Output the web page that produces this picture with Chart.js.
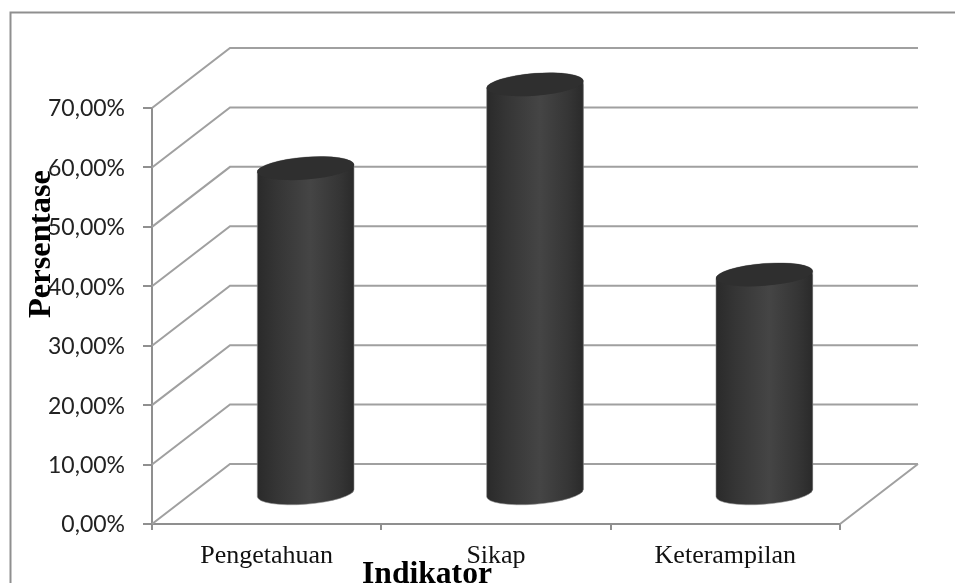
<!DOCTYPE html>
<html><head><meta charset="utf-8">
<style>html,body{margin:0;padding:0;background:#fff}canvas{display:block}</style>
<script src="https://cdn.jsdelivr.net/npm/chart.js@4"></script>
</head><body><canvas id="c" width="955" height="583"></canvas>
<script>
const categories = ['Pengetahuan', 'Sikap', 'Keterampilan'];
const percentValues = [54.8, 68.9, 36.9];
const yTitle = 'Persentase';
const xTitle = 'Indikator';
const depthX = 78, depthY = 60;
const lineColor = '#a0a0a0', axisColor = '#8f8f8f';
const radiusA = 48.5, radiusB = 11.2, tilt = -4.5 * Math.PI / 180;

function cylinderGradient(ctx, x) {
  const g = ctx.createLinearGradient(x - radiusA, 0, x + radiusA, 0);
  g.addColorStop(0, '#2a2a2a');
  g.addColorStop(0.2, '#353535');
  g.addColorStop(0.55, '#454545');
  g.addColorStop(0.85, '#353535');
  g.addColorStop(1, '#2a2a2a');
  return g;
}
function silhouette(ctx, el) {
  const p0 = Math.atan2(-radiusB * Math.sin(tilt), radiusA * Math.cos(tilt));
  ctx.ellipse(el.x, el.y, radiusA, radiusB, tilt, p0 + Math.PI, p0 + 2 * Math.PI, false);
  ctx.ellipse(el.x, el.base, radiusA, radiusB, tilt, p0, p0 + Math.PI, false);
  ctx.closePath();
}
const depthPlugin = {
  id: 'depth',
  beforeDraw(chart) {
    const c = chart.ctx;
    c.save();
    c.fillStyle = '#fff';
    c.fillRect(0, 0, chart.width, chart.height);
    c.strokeStyle = axisColor;
    c.lineWidth = 2;
    c.beginPath();
    c.moveTo(10.5, 583); c.lineTo(10.5, 12.5); c.lineTo(955, 12.5);
    c.stroke();
    c.restore();
  },
  beforeDatasetsDraw(chart) {
    const c = chart.ctx, y = chart.scales.y, a = chart.chartArea;
    c.save();
    c.strokeStyle = lineColor;
    c.lineWidth = 2;
    c.beginPath();
    y.ticks.forEach(t => {
      const py = y.getPixelForValue(t.value);
      c.moveTo(a.left, py);
      c.lineTo(a.left + depthX, py - depthY);
      c.lineTo(a.right + depthX, py - depthY);
    });
    const by = y.getPixelForValue(0);
    c.moveTo(a.right, by);
    c.lineTo(a.right + depthX, by - depthY);
    c.stroke();
    c.restore();
    c.save();
    c.translate(depthX / 2, -depthY / 2);
    c.beginPath();
    chart.getDatasetMeta(0).data.forEach(el => { c.moveTo(el.x, el.y); silhouette(c, el); });
    c.clip();
  },
  afterDatasetsDraw(chart) {
    const c = chart.ctx;
    c.restore();
    c.save();
    c.translate(depthX / 2, -depthY / 2);
    chart.getDatasetMeta(0).data.forEach(el => {
      c.beginPath();
      silhouette(c, el);
      c.fillStyle = cylinderGradient(c, el.x);
      c.fill();
      c.strokeStyle = 'rgba(150,150,150,0.55)';
      c.lineWidth = 1;
      c.stroke();
      c.beginPath();
      c.ellipse(el.x, el.y, radiusA, radiusB, tilt, 0, 2 * Math.PI);
      c.fillStyle = '#2f2f2f';
      c.fill();
    });
    c.restore();
  },
  afterDraw(chart) {
    const c = chart.ctx;
    c.save();
    c.fillStyle = '#000';
    c.textAlign = 'center';
    c.textBaseline = 'alphabetic';
    c.font = 'bold 31.6px "Liberation Serif"';
    c.fillText(xTitle, 427, 583);
    c.font = 'bold 32.5px "Liberation Serif"';
    c.translate(50, 244);
    c.rotate(-Math.PI / 2);
    c.fillText(yTitle, 0, 0);
    c.restore();
  }
};
new Chart(document.getElementById('c'), {
  type: 'bar',
  data: {
    labels: categories,
    datasets: [{
      label: yTitle,
      data: percentValues,
      barThickness: 97,
      borderWidth: 0,
      backgroundColor: ctx => {
        const a = ctx.chart.chartArea;
        if (!a) return '#353535';
        return cylinderGradient(ctx.chart.ctx, ctx.chart.scales.x.getPixelForValue(ctx.dataIndex));
      }
    }]
  },
  options: {
    responsive: false,
    animation: false,
    layout: { padding: { left: 0, right: 115, top: 108, bottom: 0 } },
    plugins: { legend: { display: false }, tooltip: { enabled: false } },
    scales: {
      x: {
        afterFit(s) { s.height = 59; },
        border: { color: axisColor, width: 2 },
        grid: { offset: true, drawOnChartArea: false, drawTicks: true, tickLength: 6, color: axisColor, lineWidth: 2 },
        ticks: { padding: 11, color: '#111', font: { family: '"Liberation Serif"', size: 26 }, maxRotation: 0 }
      },
      y: {
        min: 0, max: 70,
        afterFit(s) { s.width = 152; },
        border: { color: axisColor, width: 2 },
        grid: { drawOnChartArea: false, drawTicks: true, tickLength: 9, color: axisColor, lineWidth: 2 },
        ticks: {
          stepSize: 10, padding: 18, color: '#222', labelOffset: 1,
          font: { family: 'Lato', size: 23 },
          callback: v => v.toFixed(2).replace('.', ',') + '%'
        }
      }
    }
  },
  plugins: [depthPlugin]
});
</script></body></html>
